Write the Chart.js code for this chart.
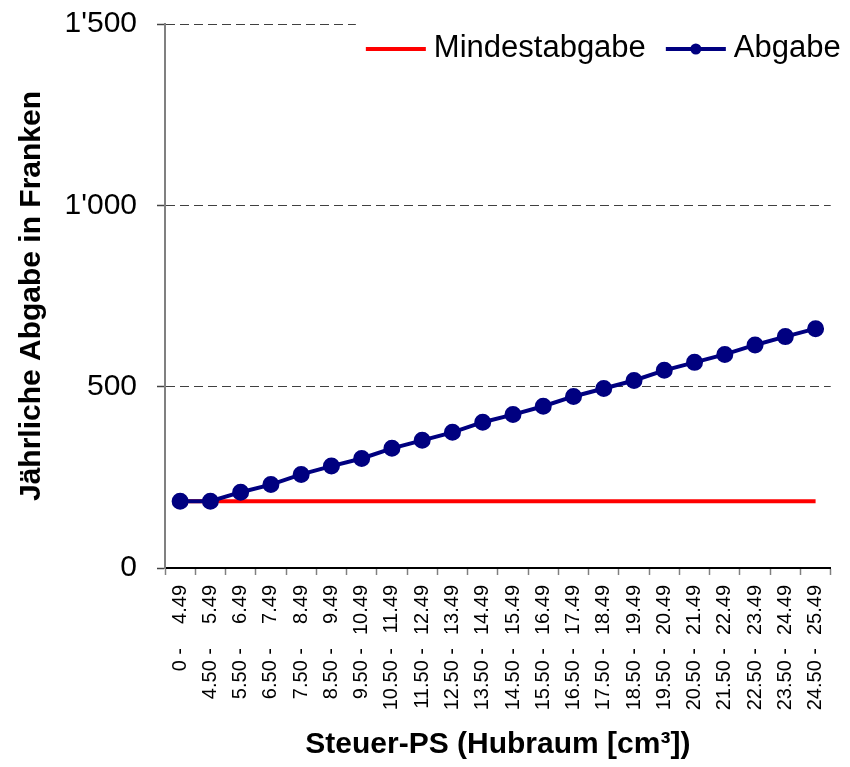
<!DOCTYPE html>
<html>
<head>
<meta charset="utf-8">
<script src="https://cdn.jsdelivr.net/npm/chart.js@4/dist/chart.umd.min.js"></script>
<style>
  html, body { margin: 0; padding: 0; background: #fff; }
  #wrap { width: 850px; height: 767px; }
</style>
</head>
<body>
<div id="wrap"><canvas id="taxChart"></canvas></div>
<script>
const FONT = "'Liberation Sans', Arial, sans-serif";

// Steuer-PS Klassen
const categories = [
    '0 - 4.49', '4.50 - 5.49', '5.50 - 6.49', '6.50 - 7.49', '7.50 - 8.49',
    '8.50 - 9.49', '9.50 - 10.49', '10.50 - 11.49', '11.50 - 12.49', '12.50 - 13.49',
    '13.50 - 14.49', '14.50 - 15.49', '15.50 - 16.49', '16.50 - 17.49', '17.50 - 18.49',
    '18.50 - 19.49', '19.50 - 20.49', '20.50 - 21.49', '21.50 - 22.49', '22.50 - 23.49',
    '23.50 - 24.49', '24.50 - 25.49'
];
const mindestabgabe = [184, 184, 184, 184, 184, 184, 184, 184, 184, 184, 184,
                       184, 184, 184, 184, 184, 184, 184, 184, 184, 184, 184];
const abgabe = [184, 184, 209, 230, 258, 281, 302, 330, 352, 374, 402,
                423, 446, 473, 495, 517, 545, 567, 589, 615, 638, 660];
const yTicks = [0, 500, 1000, 1500];

const swiss = v => String(v).replace(/\B(?=(\d{3})+(?!\d))/g, "'");

// untere Hälfte der x-Beschriftung ("4.50 -") und Legende
const extras = {
    id: 'extras',
    afterDraw(chart) {
        const ctx = chart.ctx;
        const x = chart.scales.x;
        ctx.save();
        ctx.fillStyle = '#000';
        ctx.font = '20px ' + FONT;
        ctx.textAlign = 'right';
        ctx.textBaseline = 'middle';
        categories.forEach((c, i) => {
            ctx.save();
            ctx.translate(x.getPixelForTick(i), x.top + 80);
            ctx.rotate(-Math.PI / 2);
            ctx.fillText(c.split(' - ')[0] + ' -', 0, 0);
            ctx.restore();
        });
        ctx.restore();

        // Legende
        const ds = chart.data.datasets;
        ctx.save();
        ctx.font = '31px ' + FONT;
        const w0 = ctx.measureText(ds[0].label).width;
        const w1 = ctx.measureText(ds[1].label).width;
        const right = chart.chartArea.right + 10;
        const x1 = right - w1 - 8 - 60;
        const x0 = x1 - 20 - w0 - 8 - 60;
        const ly = chart.chartArea.top + 25;
        ctx.fillStyle = '#fff';
        ctx.fillRect(x0 - 10, chart.chartArea.top - 8, chart.width - x0 + 10, 60);

        ctx.lineWidth = 4;
        ctx.strokeStyle = ds[0].borderColor;
        ctx.beginPath(); ctx.moveTo(x0, ly); ctx.lineTo(x0 + 60, ly); ctx.stroke();
        ctx.strokeStyle = ds[1].borderColor;
        ctx.beginPath(); ctx.moveTo(x1, ly); ctx.lineTo(x1 + 60, ly); ctx.stroke();
        ctx.fillStyle = ds[1].pointBackgroundColor;
        ctx.beginPath(); ctx.arc(x1 + 30, ly, 5.5, 0, Math.PI * 2); ctx.fill();

        ctx.fillStyle = '#000';
        ctx.textBaseline = 'alphabetic';
        ctx.fillText(ds[0].label, x0 + 68, ly + 8);
        ctx.fillText(ds[1].label, x1 + 68, ly + 8);
        ctx.restore();
    }
};

new Chart(document.getElementById('taxChart'), {
    type: 'line',
    data: {
        labels: categories,
        datasets: [
            {
                label: 'Mindestabgabe',
                data: mindestabgabe,
                borderColor: '#ff0000',
                borderWidth: 4,
                pointRadius: 0,
                tension: 0,
                order: 2
            },
            {
                label: 'Abgabe',
                data: abgabe,
                borderColor: '#000080',
                backgroundColor: '#000080',
                pointBackgroundColor: '#000080',
                pointBorderColor: '#000080',
                borderWidth: 4,
                pointRadius: 6.5,
                tension: 0,
                order: 1
            }
        ]
    },
    plugins: [extras],
    options: {
        responsive: true,
        maintainAspectRatio: false,
        animation: false,
        layout: {
            padding: { top: 24, right: 18, bottom: 0, left: 0 }
        },
        plugins: {
            legend: { display: false },
            tooltip: { enabled: false }
        },
        scales: {
            x: {
                offset: true,
                grid: {
                    offset: true,
                    drawOnChartArea: false,
                    tickLength: 7,
                    tickColor: '#808080',
                    tickWidth: 1.5
                },
                border: { color: '#000', width: 2 },
                ticks: {
                    autoSkip: false,
                    minRotation: 90,
                    maxRotation: 90,
                    padding: 10,
                    color: '#000',
                    font: { family: FONT, size: 20 },
                    callback: (v, i) => categories[i].split(' - ')[1]
                },
                title: {
                    display: true,
                    text: 'Steuer-PS (Hubraum [cm³])',
                    color: '#000',
                    font: { family: FONT, size: 30, weight: 'bold' },
                    padding: { top: 0, bottom: 4 }
                },
                afterFit: s => { s.height = 199; }
            },
            y: {
                min: 0,
                max: 1500,
                afterBuildTicks: s => { s.ticks = yTicks.map(v => ({ value: v })); },
                grid: {
                    color: '#404040',
                    lineWidth: 1,
                    tickLength: 8,
                    tickColor: '#444',
                    tickWidth: 1.5
                },
                border: { color: '#808080', width: 2, dash: [9, 5] },
                ticks: {
                    padding: 20,
                    color: '#000',
                    font: { family: FONT, size: 30 },
                    callback: v => swiss(v)
                },
                title: {
                    display: true,
                    text: 'Jährliche Abgabe in Franken',
                    color: '#000',
                    font: { family: FONT, size: 30, weight: 'bold' },
                    padding: { top: 14, bottom: 0 }
                },
                afterFit: s => {
                    s.width = 165;
                    s.paddingTop = 0;
                    s.paddingBottom = 0;
                }
            }
        }
    }
});
</script>
</body>
</html>
